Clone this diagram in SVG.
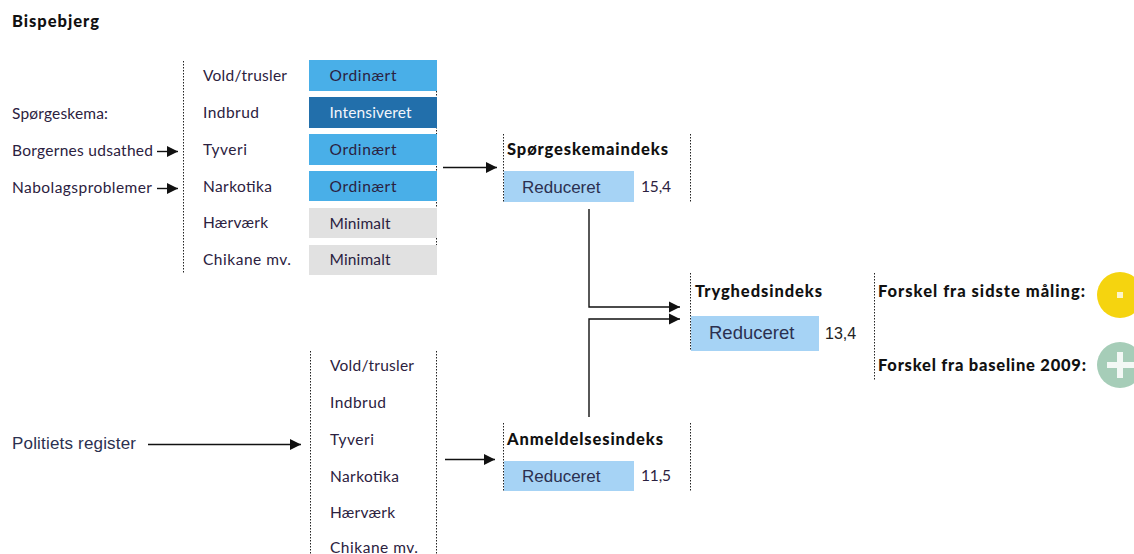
<svg xmlns="http://www.w3.org/2000/svg" width="1134" height="554" viewBox="0 0 1134 554">
<style>
text{font-family:"Lato","Liberation Sans",sans-serif;font-size:15.500px;fill:#2b2140}
.b{font-weight:900;font-size:16.500px;fill:#111}
.a{font-family:"Liberation Sans",Arial,sans-serif;font-size:17px;fill:#2b3050}
.w{fill:#f2f6fb}
.dot{stroke:#222;stroke-width:1;stroke-dasharray:1.500 1.500;fill:none}
.con{stroke:#111;stroke-width:1.400;fill:none;marker-end:url(#ah)}
.blue{fill:#49afe8}.dark{fill:#226fab}.grey{fill:#e1e1e1}.light{fill:#a6d3f5}
</style>
<defs><marker id="ah" markerUnits="userSpaceOnUse" markerWidth="12" markerHeight="12" refX="11" refY="6" orient="auto"><path d="M0 0.500L11 6L0 11.500z" fill="#111"/></marker></defs>
<rect width="1134" height="554" fill="#fff"/>
<text x="12" y="27" class="b" id="title" textLength="87">Bispebjerg</text>
<g id="survey-sources">
<text x="12" y="119" textLength="96">Spørgeskema:</text>
<text x="12" y="156" textLength="141">Borgernes udsathed</text>
<text x="12" y="193" textLength="140">Nabolagsproblemer</text>
</g>
<g id="survey-table">
<path class="dot" d="M183.500 61V274M436.500 61V274"/>
<text x="203" y="81" textLength="84">Vold/trusler</text>
<text x="203" y="118" textLength="56">Indbrud</text>
<text x="203" y="155" textLength="44">Tyveri</text>
<text x="203" y="192" textLength="69">Narkotika</text>
<text x="203" y="228" textLength="65">Hærværk</text>
<text x="203" y="265" textLength="88">Chikane mv.</text>
<rect class="blue" x="309" y="60" width="128" height="31"/>
<rect class="dark" x="309" y="97" width="128" height="31"/>
<rect class="blue" x="309" y="134" width="128" height="31"/>
<rect class="blue" x="309" y="171" width="128" height="30"/>
<rect class="grey" x="309" y="208" width="128" height="30"/>
<rect class="grey" x="309" y="245" width="128" height="30"/>
<text x="329.500" y="81" textLength="67">Ordinært</text>
<text x="329.500" y="118" class="w" textLength="82">Intensiveret</text>
<text x="329.500" y="155" textLength="67">Ordinært</text>
<text x="329.500" y="192" textLength="67">Ordinært</text>
<text x="329.500" y="229" textLength="61">Minimalt</text>
<text x="329.500" y="265" textLength="61">Minimalt</text>
</g>
<g id="survey-index">
<path class="dot" d="M503.500 134V202M690.500 134V202"/>
<text x="507" y="155" class="b" textLength="161">Spørgeskemaindeks</text>
<rect class="light" x="504" y="171" width="130" height="31"/>
<text x="522" y="193" class="a">Reduceret</text>
<text x="641" y="192" textLength="30">15,4</text>
</g>
<g id="safety-index">
<path class="dot" d="M690.500 273V351M874.500 273V380"/>
<text x="695" y="297" class="b" textLength="127">Tryghedsindeks</text>
<rect class="light" x="691" y="316" width="128" height="35"/>
<text x="709" y="339" class="a" style="font-size:18.500px">Reduceret</text>
<text x="825" y="339" class="a" style="font-size:16px;fill:#222">13,4</text>
<text x="878" y="297" class="b" textLength="207">Forskel fra sidste måling:</text>
<text x="878" y="371" class="b" textLength="208">Forskel fra baseline 2009:</text>
</g>
<g id="status-last"><circle cx="1120" cy="295" r="23" fill="#f5d40f"/><rect x="1117" y="292" width="6" height="6" fill="#fdf6c8"/></g>
<g id="status-baseline"><circle cx="1120" cy="365" r="23" fill="#a6cdb8"/><path d="M1117 352h6v10h11v6h-11v10h-6v-10h-10v-6h10z" fill="#f3f8f5"/></g>
<g id="police-source"><text x="12" y="449" class="a" textLength="124">Politiets register</text></g>
<g id="police-table">
<path class="dot" d="M310.500 351V554M436.500 351V554"/>
<text x="330" y="371" textLength="84">Vold/trusler</text>
<text x="330" y="408" textLength="56">Indbrud</text>
<text x="330" y="445" textLength="44">Tyveri</text>
<text x="330" y="482" textLength="69">Narkotika</text>
<text x="330" y="518" textLength="65">Hærværk</text>
<text x="330" y="553" textLength="88">Chikane mv.</text>
</g>
<g id="report-index">
<path class="dot" d="M503.500 423V491M690.500 423V491"/>
<text x="507" y="445" class="b" textLength="156">Anmeldelsesindeks</text>
<rect class="light" x="504" y="461" width="130" height="30"/>
<text x="522" y="482" class="a">Reduceret</text>
<text x="641" y="481" textLength="30">11,5</text>
</g>
<g id="connectors">
<path class="con" d="M157 151.500H178"/>
<path class="con" d="M157 188.500H178"/>
<path class="con" d="M443 167.500H497"/>
<path class="con" d="M589 209V307H680"/>
<path class="con" d="M589 417V319H680"/>
<path class="con" d="M148 444.500H301"/>
<path class="con" d="M445 459.500H495"/>
</g>
</svg>
